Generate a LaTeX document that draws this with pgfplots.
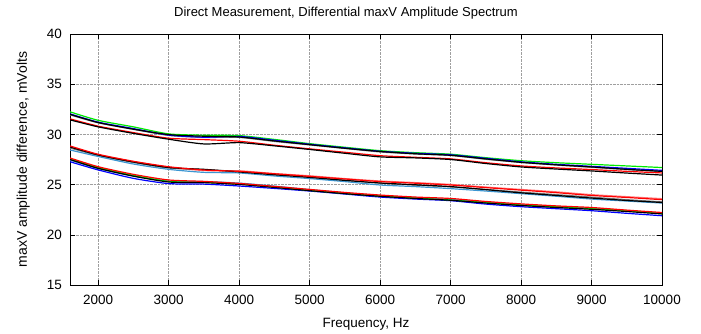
\documentclass[border=0pt]{standalone}
\usepackage{fontspec}
\setmainfont{Liberation Sans}
\usepackage{pgfplots}
\usepackage{pgfplotstable}
\pgfplotsset{compat=1.18}

\pgfplotstableread{
x     T1    T2    T3    T4    T5    T6
1600  32.25 32.05 32.00 31.95 31.55 31.45
2000  31.40 31.22 31.18 31.15 30.82 30.75
2500  30.75 30.58 30.52 30.50 30.18 30.10
3000  30.05 29.93 29.98 29.90 29.62 29.52
3500  29.92 29.72 29.82 29.70 29.48 29.05
4000  29.88 29.80 29.74 29.70 29.32 29.18
4500  29.50 29.42 29.35 29.30 28.92 28.86
5000  29.08 29.02 28.98 28.95 28.56 28.50
5500  28.72 28.66 28.62 28.60 28.22 28.12
6000  28.38 28.32 28.30 28.25 27.88 27.76
6500  28.18 28.12 28.07 28.05 27.72 27.66
7000  28.03 27.97 27.92 27.90 27.56 27.50
7500  27.68 27.62 27.56 27.52 27.18 27.10
8000  27.38 27.27 27.22 27.20 26.86 26.76
8500  27.18 27.02 26.97 26.95 26.66 26.55
9000  27.02 26.82 26.76 26.72 26.50 26.36
9500  26.86 26.62 26.52 26.50 26.32 26.15
10000 26.70 26.42 26.32 26.30 26.16 25.95
}\toptable

\pgfplotstableread{
x     M1    M2    M3    M4    M5
1600  28.85 28.75 28.65 28.45 28.70
2000  28.02 27.95 27.90 27.80 27.95
2500  27.32 27.25 27.20 27.05 27.30
3000  26.78 26.70 26.65 26.52 26.72
3500  26.45 26.52 26.50 26.22 26.40
4000  26.32 26.26 26.30 26.16 26.38
4500  26.08 25.98 26.00 25.86 26.10
5000  25.82 25.72 25.75 25.60 25.88
5500  25.56 25.42 25.45 25.30 25.60
6000  25.30 25.16 25.15 24.96 25.36
6500  25.14 24.98 24.95 24.80 25.20
7000  24.96 24.80 24.78 24.60 25.02
7500  24.70 24.50 24.52 24.36 24.76
8000  24.45 24.18 24.25 24.10 24.52
8500  24.20 23.92 24.00 23.84 24.28
9000  23.92 23.66 23.75 23.56 24.00
9500  23.72 23.42 23.50 23.36 23.80
10000 23.50 23.22 23.28 23.16 23.60
}\midtable

\pgfplotstableread{
x     B1    B2    B3    B4    B5
1600  27.65 27.58 27.50 27.28 27.45
2000  26.78 26.70 26.62 26.46 26.60
2500  26.02 25.92 25.84 25.62 25.85
3000  25.46 25.32 25.26 25.10 25.35
3500  25.32 25.22 25.20 25.05 25.30
4000  25.12 25.06 25.02 24.86 25.15
4500  24.82 24.76 24.72 24.62 24.85
5000  24.52 24.42 24.40 24.36 24.50
5500  24.22 24.12 24.10 24.06 24.18
6000  23.96 23.86 23.84 23.76 23.90
6500  23.76 23.66 23.62 23.56 23.70
7000  23.62 23.46 23.44 23.40 23.52
7500  23.32 23.22 23.16 23.06 23.25
8000  23.08 22.96 22.92 22.80 23.00
8500  22.88 22.80 22.72 22.60 22.82
9000  22.72 22.60 22.54 22.40 22.64
9500  22.46 22.40 22.32 22.14 22.38
10000 22.22 22.10 22.08 21.90 22.16
}\bottable

\definecolor{gpred}{RGB}{255,0,0}
\definecolor{gpgreen}{RGB}{0,235,0}
\definecolor{gpblue}{RGB}{0,0,255}
\definecolor{gpsky}{RGB}{60,150,210}
\definecolor{gppink}{RGB}{255,120,120}
\definecolor{gpgrey}{RGB}{120,120,120}

\begin{document}
\begin{tikzpicture}[font=\fontsize{13.5bp}{16bp}\selectfont]
\path[use as bounding box] (-70bp,-49bp) rectangle (631bp,285bp);
\begin{axis}[
  at={(0,0)}, anchor=south west,
  scale only axis, width=592bp, height=251bp,
  xmin=1600, xmax=10000, ymin=15, ymax=40,
  xtick={2000,3000,...,10000},
  ytick={15,20,...,40},
  /pgf/number format/assume math mode=true,
  /pgf/number format/set thousands separator={},
  scaled x ticks=false,
  grid=major,
  grid style={densely dotted, gray!75, line width=0.5bp},
  axis line style={line width=1bp},
  tick style={line width=0.6bp, black},
  major tick length=5bp,
  tick align=inside,
  xticklabel style={anchor=base, yshift=-19.5bp, inner sep=0pt},
  yticklabel style={anchor=east, inner sep=0pt, xshift=-8bp},
  title={Direct Measurement, Differential maxV Amplitude Spectrum},
  title style={at={([yshift=12bp,xshift=-20bp]axis description cs:0.5,1)}, anchor=base, inner sep=0pt, font=\fontsize{13bp}{16bp}\selectfont},
  xlabel={Frequency, Hz},
  xlabel style={at={([yshift=-42bp]axis description cs:0.5,0)}, anchor=base, inner sep=0pt},
  ylabel={maxV amplitude difference, mVolts},
  ylabel style={at={([xshift=-43bp]axis description cs:0,0.5)}, anchor=base, rotate=0, inner sep=0pt, font=\fontsize{14bp}{16bp}\selectfont},
  every axis plot/.append style={line width=1.2bp, smooth, tension=0.4, mark=none},
]
% light traces
\addplot[gpgrey] table[x=x,y=T4] {\toptable};
\addplot[gppink] table[x=x,y=M5] {\midtable};
\addplot[gpgrey] table[x=x,y=M3] {\midtable};
\addplot[gpsky] table[x=x,y=M4] {\midtable};
\addplot[gpsky] table[x=x,y=B5] {\bottable};
% top bundle
\addplot[gpgreen] table[x=x,y=T1] {\toptable};
\addplot[gpblue] table[x=x,y=T2] {\toptable};
\addplot[black] table[x=x,y=T3] {\toptable};
\addplot[gpred] table[x=x,y=T5] {\toptable};
\addplot[black] table[x=x,y=T6] {\toptable};
% middle bundle
\addplot[black] table[x=x,y=M2] {\midtable};
\addplot[gpred] table[x=x,y=M1] {\midtable};
% bottom bundle
\addplot[gpblue] table[x=x,y=B4] {\bottable};
\addplot[gpgreen] table[x=x,y=B2] {\bottable};
\addplot[black] table[x=x,y=B3] {\bottable};
\addplot[gpred] table[x=x,y=B1] {\bottable};
\end{axis}
\end{tikzpicture}
\end{document}
